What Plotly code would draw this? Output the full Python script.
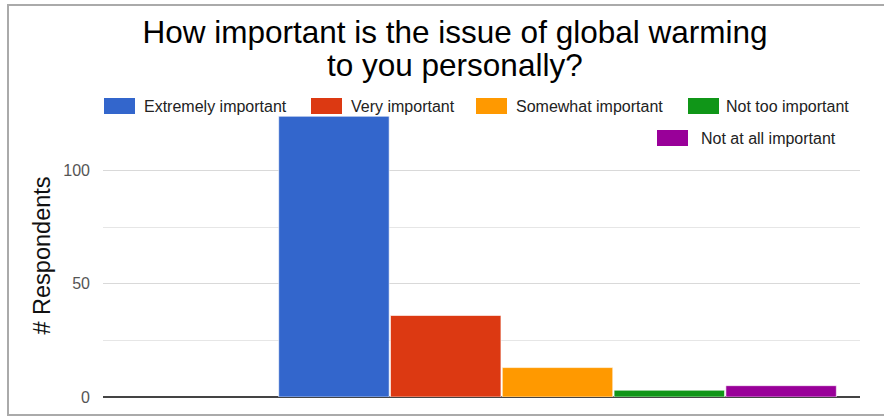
import plotly.graph_objects as go

question_lines = ["How important is the issue of global warming", "to you personally?"]
categories = ["Q"]
series_names = ["Extremely important", "Very important", "Somewhat important",
                "Not too important", "Not at all important"]
series_values = [124, 36, 13, 3, 5]
series_colors = ["#3366cc", "#dc3912", "#ff9900", "#109618", "#990099"]
y_tick_vals = [0, 50, 100]
y_tick_text = ["0", "50", "100"]

W, H = 884, 417
L, R, T, B = 103, 24, 114, 20
PW, PH = W - L - R, H - T - B

def px_x(x):
    return (x - L) / PW

def px_y(y):
    return (H - B - y) / PH

FONT = "Liberation Sans, Arial, sans-serif"

fig = go.Figure()
for name, val, col in zip(series_names, series_values, series_colors):
    fig.add_trace(go.Bar(
        x=categories, y=[val], name=name,
        marker=dict(color=col, line=dict(color="rgba(255,255,255,0.6)", width=1)),
        showlegend=False,
    ))

# legend drawn as swatches + labels
legend_items = [  # (swatch left px, swatch top px, text left px)
    (104, 98, 142), (311, 98, 349), (476, 98, 514), (688, 98, 724), (657, 130, 699)
]
shapes = []
annotations = []
for (sx, sy, tx), name, col in zip(legend_items, series_names, series_colors):
    shapes.append(dict(type="rect", xref="paper", yref="paper",
                       x0=px_x(sx), x1=px_x(sx + 31), y0=px_y(sy + 16), y1=px_y(sy),
                       fillcolor=col, line=dict(width=0)))
    annotations.append(dict(text=name, xref="paper", yref="paper",
                            x=px_x(tx), y=px_y(sy + 8), xanchor="left", yanchor="middle",
                            showarrow=False, font=dict(family=FONT, size=16, color="#222222")))

# second title line
annotations.append(dict(text=question_lines[1], xref="paper", yref="paper",
                        x=px_x(455), y=px_y(65), xanchor="center", yanchor="middle",
                        showarrow=False, font=dict(family=FONT, size=31.5, color="#000000")))

# outer frame
shapes.append(dict(type="rect", xref="paper", yref="paper", layer="below",
                   x0=px_x(8), x1=px_x(900), y0=px_y(415), y1=px_y(5),
                   line=dict(color="#aaaaaa", width=2), fillcolor="rgba(0,0,0,0)"))

fig.update_layout(
    width=W, height=H,
    margin=dict(l=L, r=R, t=T, b=B),
    paper_bgcolor="white", plot_bgcolor="white",
    font=dict(family=FONT),
    title=dict(text=question_lines[0],
               x=455 / W, xanchor="center", xref="container",
               y=1 - 32 / H, yanchor="middle", yref="container",
               font=dict(family=FONT, size=31.5, color="#000000")),
    barmode="group", bargap=0.2, bargroupgap=0.012,
    shapes=shapes, annotations=annotations,
    showlegend=False,
)
fig.update_xaxes(type="category", range=[-0.6505, 0.4329], showticklabels=False,
                 showgrid=False, showline=False, zeroline=False, fixedrange=True)
fig.update_yaxes(range=[0, 125], tickvals=y_tick_vals, ticktext=y_tick_text,
                 showgrid=True, gridcolor="#d9d9d9", gridwidth=1,
                 minor=dict(tickvals=[25, 75, 125], showgrid=True, gridcolor="#e6e6e6", gridwidth=1),
                 zeroline=True, zerolinecolor="#444444", zerolinewidth=2,
                 tickfont=dict(family=FONT, size=16, color="#555555"),
                 ticks="", ticklabelstandoff=12,
                 title=dict(text="# Respondents", font=dict(family=FONT, size=23.5, color="#111111"), standoff=6))

fig.write_html("out.html", config={"displayModeBar": False},
               post_script="document.body.style.margin='0';document.body.style.padding='0';")
